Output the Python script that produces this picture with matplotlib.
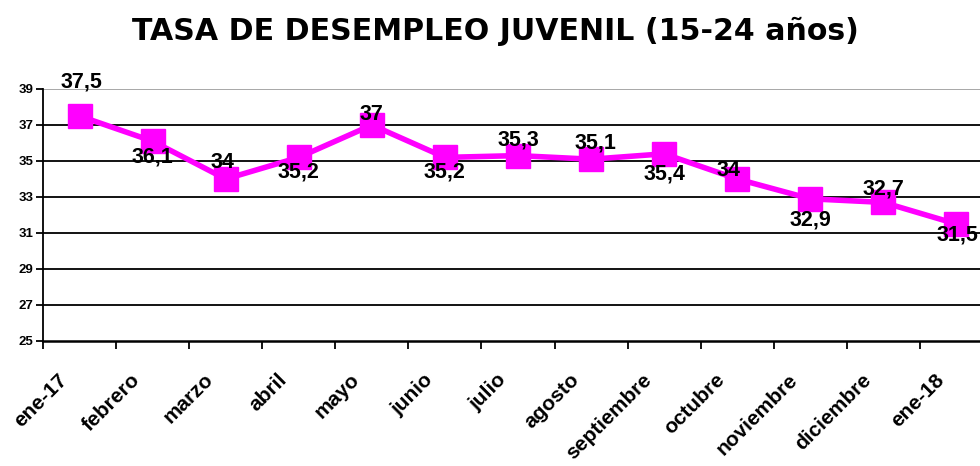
import matplotlib.pyplot as plt
import numpy as np
from matplotlib.transforms import ScaledTranslation

plt.rcParams['font.family'] = ['Liberation Sans', 'DejaVu Sans']
plt.rcParams['font.weight'] = 'bold'

# data
months = ['ene-17', 'febrero', 'marzo', 'abril', 'mayo', 'junio', 'julio',
          'agosto', 'septiembre', 'octubre', 'noviembre', 'diciembre', 'ene-18']
rate = [37.5, 36.1, 34, 35.2, 37, 35.2, 35.3, 35.1, 35.4, 34, 32.9, 32.7, 31.5]
# data label offsets from the marker, in pixels (dx, dy; dy>0 is up)
label_dx = [2, 0, -3, 0, 0, 0, 0, 4, 0, -9, 0, 0, 1]
label_dy = [36, -13, 19, -12, 13, -12, 18, 19, -18, 11, -19, 16, -9]

fig = plt.figure(figsize=(9.8, 4.66), dpi=100)
ax = fig.add_axes([43 / 980, 1 - 341 / 466, 950 / 980, 252 / 466])

x = np.arange(len(months))
ax.plot(x, rate, color='#FF00FF', lw=4, marker='s', ms=17, zorder=3)

px = 72 / fig.dpi  # pixels -> points
for xi, v, dx, dy in zip(x, rate, label_dx, label_dy):
    txt = f'{v:g}'.replace('.', ',')
    ax.annotate(txt, (xi, v), xytext=(dx * px, dy * px), textcoords='offset points',
                ha='center', va='center_baseline', fontsize=15.5, fontweight='bold', zorder=4)

ax.set_xlim(-0.5, len(months) - 0.5)
ax.set_ylim(25, 39)
ax.set_yticks(np.arange(25, 40, 2))
for yv in np.arange(27, 40, 2):
    ax.axhline(yv, color='#A0A0A0' if yv == 39 else 'black', lw=1.3, zorder=1)

ax.set_xticks(x)
ax.set_xticklabels(months, rotation=45, ha='right', rotation_mode='anchor', fontsize=15)
ax.set_xticks(np.arange(-0.5, len(months), 1), minor=True)
ax.tick_params(axis='x', which='major', length=0, pad=21)
ax.tick_params(axis='x', which='minor', length=6, width=1.3, direction='out')
ax.tick_params(axis='y', length=5, width=1.3, labelsize=9.5, pad=2)
shift = ScaledTranslation(-22 / 100, 0, fig.dpi_scale_trans)
for lbl in ax.get_xticklabels():
    lbl.set_fontweight('bold')
    lbl.set_transform(lbl.get_transform() + shift)
for lbl in ax.get_yticklabels():
    lbl.set_fontweight('bold')

for side in ['top', 'right']:
    ax.spines[side].set_visible(False)
ax.spines['left'].set_linewidth(1.3)
ax.spines['bottom'].set_linewidth(1.8)

title = fig.text(495 / 980, 1 - 31 / 466, 'TASA DE DESEMPLEO JUVENIL (15-24 años)',
                 ha='center', va='center', fontsize=20, fontweight='bold',
                 family=['DejaVu Sans'])
# fit the title to the width it has in the reference (about 724 px)
r = fig.canvas.get_renderer()
w = title.get_window_extent(r).width
title.set_fontsize(20 * 724 / w)

fig.savefig('out.png', dpi=100)
